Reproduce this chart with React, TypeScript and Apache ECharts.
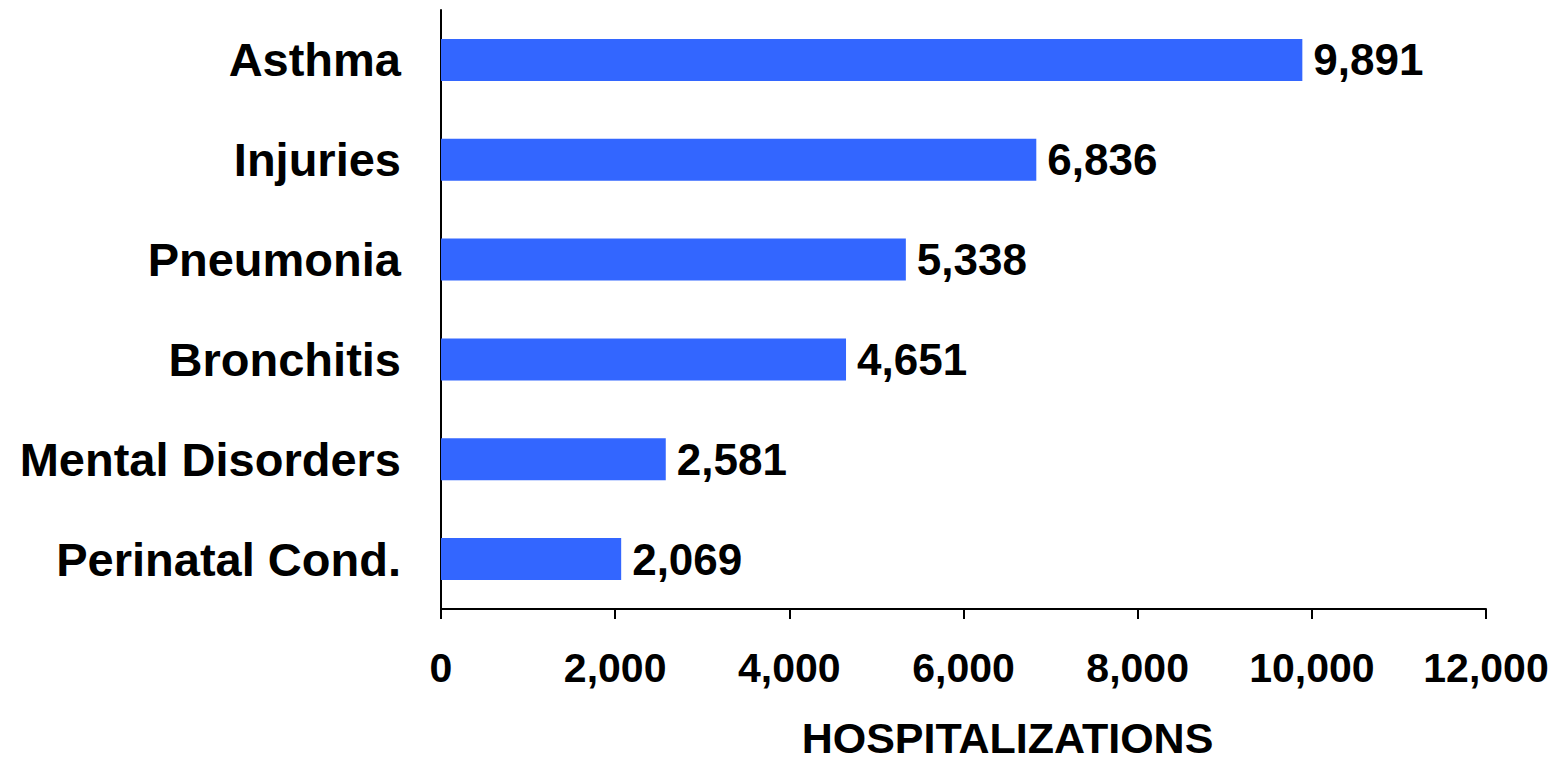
import React, { useEffect, useRef } from "react";
import * as echarts from "echarts";

const categories = ["Asthma", "Injuries", "Pneumonia", "Bronchitis", "Mental Disorders", "Perinatal Cond."];
const hospitalizations = [9891, 6836, 5338, 4651, 2581, 2069];
const xTicks = { min: 0, max: 12000, interval: 2000 };
const axisTitle = "HOSPITALIZATIONS";

const fmt = (v: number) => Number(v).toLocaleString("en-US");
const FONT = "'Liberation Sans', Arial, Helvetica, sans-serif";

export default function App() {
  const ref = useRef<HTMLDivElement>(null);
  useEffect(() => {
    if (!ref.current) return;
    const chart = echarts.init(ref.current, undefined, { renderer: "svg" });
    chart.setOption({
      animation: false,
      backgroundColor: "#ffffff",
      grid: { left: 441, right: 77, top: 10, bottom: 153, containLabel: false },
      xAxis: {
        type: "value",
        min: xTicks.min,
        max: xTicks.max,
        interval: xTicks.interval,
        splitLine: { show: false },
        axisLine: { show: true, lineStyle: { color: "#000", width: 2 } },
        axisTick: { show: true, length: 10, lineStyle: { color: "#000", width: 2 } },
        axisLabel: {
          margin: 38,
          formatter: (v: number) => fmt(v),
          color: "#000",
          fontFamily: FONT,
          fontWeight: "bold",
          fontSize: 41,
        },
        name: axisTitle,
        nameLocation: "middle",
        nameGap: 107,
        nameTextStyle: {
          color: "#000",
          fontFamily: FONT,
          fontWeight: "bold",
          fontSize: 43,
          padding: [0, 0, 0, 88],
        },
      },
      yAxis: {
        type: "category",
        data: categories,
        inverse: true,
        axisLine: { show: true, lineStyle: { color: "#000", width: 2 } },
        axisTick: { show: false },
        axisLabel: {
          margin: 40,
          color: "#000",
          fontFamily: FONT,
          fontWeight: "bold",
          fontSize: 47,
        },
      },
      series: [
        {
          type: "bar",
          data: hospitalizations,
          barWidth: 42,
          itemStyle: { color: "#3366FF" },
          label: {
            show: true,
            position: "right",
            distance: 11,
            formatter: (p: any) => fmt(p.value),
            color: "#000",
            fontFamily: FONT,
            fontWeight: "bold",
            fontSize: 44,
          },
        },
      ],
    });
    return () => chart.dispose();
  }, []);
  return (
    <div
      ref={ref}
      style={{ position: "fixed", left: 0, top: 0, width: 1563, height: 764, background: "#fff" }}
    />
  );
}
